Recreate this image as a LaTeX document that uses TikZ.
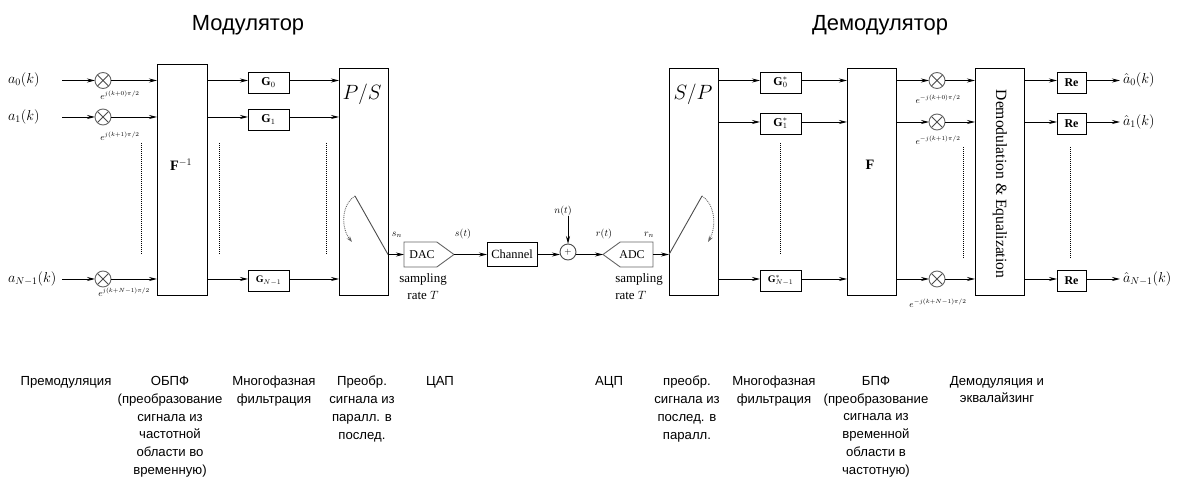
\documentclass[tikz,border=0pt]{standalone}
\usepackage{amsmath,amssymb}
\usepackage{fontspec}
\setmainfont{Liberation Serif}
\newfontfamily\labelfont{Liberation Sans}
\usetikzlibrary{arrows.meta,shapes.symbols}
\begin{document}
\begin{tikzpicture}[x=1bp,y=-1bp,line width=0.9bp,
  every node/.style={inner sep=0pt,outer sep=0pt},
  sig/.style={-{Stealth[length=8bp,width=4bp]}},
  bigbox/.style={draw,minimum width=49bp,minimum height=227bp},
  filt/.style={draw,minimum width=41bp,minimum height=21bp,font=\large},
  rebox/.style={draw,minimum width=29bp,minimum height=21bp,font=\large\bfseries},
  mult/.style={draw=black!60,circle,minimum size=16bp,path picture={
    \draw[black!70] (path picture bounding box.north west)--(path picture bounding box.south east)
    (path picture bounding box.north east)--(path picture bounding box.south west);}},
  conv/.style={draw=black!60,shape=signal,signal pointer angle=72,minimum width=50bp,minimum height=25bp},
  convlab/.style={font=\fontsize{12}{14}\selectfont},
  vdots/.style={densely dotted,line width=1bp},
  caplab/.style={font=\labelfont\fontsize{13.2}{18}\selectfont,align=center,anchor=north},
  titlelab/.style={font=\labelfont\fontsize{22}{24}\selectfont},
  phase/.style={font=\small},
  inlab/.style={font=\Large},
  wirelab/.style={font=\normalsize},
  sample/.style={font=\fontsize{13}{17}\selectfont}]
\useasboundingbox (0,0) rectangle (1179,487);
% modulator
\node[titlelab] (modtitle) at (248,25) {Модулятор};
\node[inlab,anchor=west] (a0) at (8,80) {$a_0(k)$};
\node[inlab,anchor=west] (a1) at (8,117) {$a_1(k)$};
\node[inlab,anchor=west] (an) at (8,279) {$a_{N-1}(k)$};
\coordinate (in0) at (62,80.5);
\coordinate (in1) at (62,117);
\coordinate (inn) at (62,279);
\node[mult] (m0) at (103,80.5) {};
\node[mult] (m1) at (103,117) {};
\node[mult] (mn) at (103,279) {};
\node[phase] (e0) at (120,95) {$e^{j(k+0)\pi/2}$};
\node[phase] (e1) at (120,136) {$e^{j(k+1)\pi/2}$};
\node[phase] (en) at (124,292) {$e^{j(k+N-1)\pi/2}$};
\node[bigbox,minimum width=50bp,minimum height=231bp] (finv) at (182,179.5) {};
\node[font=\Large] (finvlab) at (181,165) {$\mathbf{F}^{-1}$};
\node[filt] (g0) at (268.5,82.5) {$\mathbf{G}_0$};
\node[filt] (g1) at (268.5,119.5) {$\mathbf{G}_1$};
\node[filt,font=\normalsize] (gn) at (268.5,280.5) {$\mathbf{G}_{N-1}$};
\node[bigbox] (ps) at (363.5,181.5) {};
\node (pslab) at (362,94) {\huge$P/S$};
\coordinate (pstop) at (355,196);
\coordinate (psbot) at (388,254.5);
\coordinate (psarc) at (352,242);
\draw[sig] (in0) -- (m0);
\draw[sig] (in1) -- (m1);
\draw[sig] (inn) -- (mn);
\draw[sig] (m0) -- (m0 -| finv.west);
\draw[sig] (m1) -- (m1 -| finv.west);
\draw[sig] (mn) -- (mn -| finv.west);
\draw[sig] (m0 -| finv.east) -- (m0 -| g0.west);
\draw[sig] (m1 -| finv.east) -- (m1 -| g1.west);
\draw[sig] (mn -| finv.east) -- (mn -| gn.west);
\draw[sig] (m0 -| g0.east) -- (m0 -| ps.west);
\draw[sig] (m1 -| g1.east) -- (m1 -| ps.west);
\draw[sig] (mn -| gn.east) -- (mn -| ps.west);
\draw[vdots] (141,143) -- (141,253);
\draw[vdots] (219,143) -- (219,253);
\draw[vdots] (326,143) -- (326,253);
\draw[black!70] (pstop) -- (psbot);
\draw[black!60,densely dotted,-{Stealth[length=6bp,width=4bp]}] (pstop) .. controls (341,205) and (341,228) .. (psarc);
% channel
\node[conv,signal from=nowhere,signal to=east,anchor=west] (dac) at (404,254.5) {};
\node[convlab] (daclab) at (422,254.5) {DAC};
\node[draw,minimum width=50bp,minimum height=24bp,font=\fontsize{12.5}{15}\selectfont] (chan) at (512,254.5) {Channel};
\node[draw=black!70,circle,minimum size=16bp,font=\small] (sum) at (568,252) {$+$};
\node[conv,signal from=nowhere,signal to=west,anchor=east] (adc) at (653,254.5) {};
\node[convlab] (adclab) at (632,254.5) {ADC};
\node[wirelab] (sn) at (397,235) {$s_n$};
\node[wirelab] (st) at (463,234) {$s(t)$};
\node[wirelab] (nt) at (563,211) {$n(t)$};
\node[wirelab] (rt) at (604,234) {$r(t)$};
\node[wirelab] (rn) at (649,235) {$r_n$};
\node[sample,align=center] (ratel) at (423,287) {sampling\\ rate $T$};
\node[sample,align=left] (rater) at (639,287) {sampling\\ rate $T$};
\draw[sig] (psbot) -- (dac.west);
\draw[sig] (dac.east) -- (chan);
\draw[sig] (chan) -- (chan -| sum.west);
\draw[sig] (chan -| sum.east) -- (adc.west);
\draw[sig] (nt.south -| sum) -- (sum);
% demodulator
\node[titlelab] (demtitle) at (880,25) {Демодулятор};
\node[bigbox] (sp) at (693.5,181.5) {};
\node (splab) at (693,94) {\huge$S/P$};
\coordinate (sptop) at (702,196);
\coordinate (spbot) at (669,254.5);
\coordinate (sparc) at (708,242);
\draw[sig] (adc.east) -- (spbot);
\draw[black!70] (spbot) -- (sptop);
\draw[black!60,densely dotted,-{Stealth[length=6bp,width=4bp]}] (sptop) .. controls (716,205) and (716,228) .. (sparc);
\node[filt] (gc0) at (780.5,82.5) {$\mathbf{G}_0^{*}$};
\node[filt] (gc1) at (780.5,123.5) {$\mathbf{G}_1^{*}$};
\node[filt,font=\normalsize] (gcn) at (780.5,280.5) {$\mathbf{G}_{N-1}^{*}$};
\node[bigbox] (fwd) at (871.5,181.5) {};
\node[font=\Large] (fwdlab) at (870,165) {$\mathbf{F}$};
\node[mult] (c0) at (937,80.5) {};
\node[mult] (c1) at (937,122) {};
\node[mult] (cn) at (937,279) {};
\node[phase] (ec0) at (938,99) {$e^{-j(k+0)\pi/2}$};
\node[phase] (ec1) at (938,140) {$e^{-j(k+1)\pi/2}$};
\node[phase] (ecn) at (938,303) {$e^{-j(k+N-1)\pi/2}$};
\node[bigbox] (eq) at (999.5,181.5) {};
\node[rotate=-90,font=\fontsize{15.7}{17}\selectfont] (eqlab) at (1000,184) {Demodulation \& Equalization};
\node[rebox] (r0) at (1071.5,82.5) {Re};
\node[rebox] (r1) at (1071.5,123.5) {Re};
\node[rebox] (rn1) at (1071.5,280.5) {Re};
\coordinate (out0) at (1120,80.5);
\coordinate (out1) at (1120,122);
\coordinate (outn) at (1120,279);
\node[inlab,anchor=west] (h0) at (1123,80) {$\hat{a}_0(k)$};
\node[inlab,anchor=west] (h1) at (1123,122) {$\hat{a}_1(k)$};
\node[inlab,anchor=west] (hn) at (1123,279) {$\hat{a}_{N-1}(k)$};
\draw[sig] (c0 -| sp.east) -- (c0 -| gc0.west);
\draw[sig] (c1 -| sp.east) -- (c1 -| gc1.west);
\draw[sig] (cn -| sp.east) -- (cn -| gcn.west);
\draw[sig] (c0 -| gc0.east) -- (c0 -| fwd.west);
\draw[sig] (c1 -| gc1.east) -- (c1 -| fwd.west);
\draw[sig] (cn -| gcn.east) -- (cn -| fwd.west);
\draw[sig] (c0 -| fwd.east) -- (c0);
\draw[sig] (c1 -| fwd.east) -- (c1);
\draw[sig] (cn -| fwd.east) -- (cn);
\draw[sig] (c0) -- (c0 -| eq.west);
\draw[sig] (c1) -- (c1 -| eq.west);
\draw[sig] (cn) -- (cn -| eq.west);
\draw[sig] (c0 -| eq.east) -- (c0 -| r0.west);
\draw[sig] (c1 -| eq.east) -- (c1 -| r1.west);
\draw[sig] (cn -| eq.east) -- (cn -| rn1.west);
\draw[sig] (c0 -| r0.east) -- (out0);
\draw[sig] (c1 -| r1.east) -- (out1);
\draw[sig] (cn -| rn1.east) -- (outn);
\draw[vdots] (780,143) -- (780,253);
\draw[vdots] (963,147) -- (963,257);
\draw[vdots] (1070,147) -- (1070,257);
% captions
\node[caplab] (lab1) at (66,376) {Премодуляция};
\node[caplab] (lab2) at (170,376) {ОБПФ\\ (преобразование\\ сигнала из\\ частотной\\ области во\\ временную)};
\node[caplab] (lab3) at (274,376) {Многофазная\\ фильтрация};
\node[caplab] (lab4) at (362,376) {Преобр.\\ сигнала из\\ паралл. в\\ послед.};
\node[caplab] (lab5) at (440,376) {ЦАП};
\node[caplab] (lab6) at (609,376) {АЦП};
\node[caplab] (lab7) at (687,376) {преобр.\\ сигнала из\\ послед. в\\ паралл.};
\node[caplab] (lab8) at (774,376) {Многофазная\\ фильтрация};
\node[caplab] (lab9) at (876,376) {БПФ\\ (преобразование\\ сигнала из\\ временной\\ области в\\ частотную)};
\node[caplab] (lab10) at (997,376) {Демодуляция и\\ эквалайзинг};
\end{tikzpicture}
\end{document}
